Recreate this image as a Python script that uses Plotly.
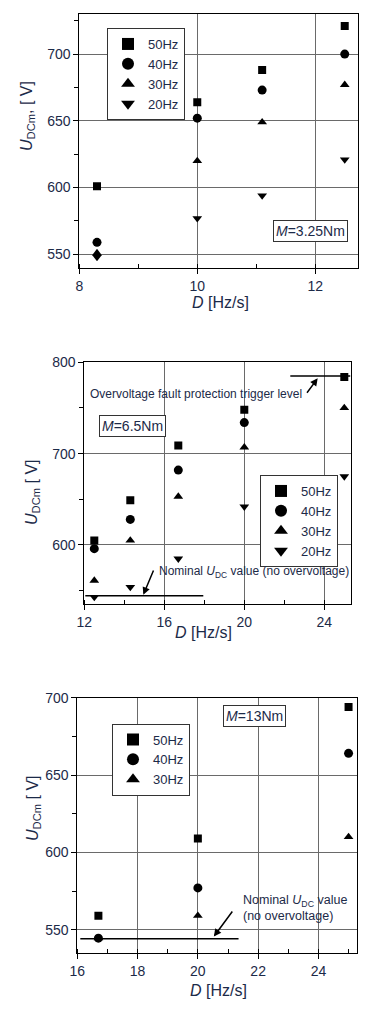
import plotly.graph_objects as go

# ---------------- data ----------------
freq_labels = ["50Hz", "40Hz", "30Hz", "20Hz"]
symbols = ["square", "circle", "triangle-up", "triangle-down"]
sym_sizes = [8, 9, 8.5, 8.5]

# Panel 1: M = 3.25 Nm
d1 = [8.3, 10.0, 11.1, 12.5]
u1_50 = [601, 664, 688, 721]
u1_40 = [559, 652, 673, 700]
u1_30 = [551, 620, 649, 677]
u1_20 = [548, 577, 594, 621]

# Panel 2: M = 6.5 Nm
d2 = [12.5, 14.3, 16.7, 20.0, 25.0]
u2_50 = [605, 649, 709, 748, 784]
d2_40 = [12.5, 14.3, 16.7, 20.0]
u2_40 = [596, 628, 682, 734]
u2_30 = [561, 605, 653, 707, 750]
u2_20 = [543, 554, 585, 642, 675]
trip_x = [22.3, 25.3]
trip_u = [785, 785]
nom2_x = [12.05, 17.95]
nom2_u = [544.5, 544.5]

# Panel 3: M = 13 Nm
d3 = [16.7, 20.0, 25.0]
u3_50 = [559, 609, 694]
u3_40 = [544.5, 577, 664]
u3_30 = [544.5, 559, 610]
nom3_x = [16.1, 21.35]
nom3_u = [544.2, 544.2]

TXT = "#1c2a48"
FONT = "Liberation Sans, Arial, sans-serif"

# page geometry (browser body has an 8px margin)
OFF = 8
W, H = 375 - OFF, 1022 - 2 * OFF
def px(x): return (x - OFF) / W
def py(y): return 1 - (y - OFF) / H
def dx(a, b): return [px(a), px(b)]
def dy(top, bot): return [py(bot), py(top)]

fig = go.Figure()

def add_series(xs, ys, sym, size, name, xa, ya, legend):
    fig.add_trace(go.Scatter(
        x=xs, y=ys, mode="markers", name=name, legend=legend,
        xaxis=xa, yaxis=ya,
        marker=dict(symbol=sym, size=size, color="black", line=dict(width=0)),
    ))

p1 = [u1_50, u1_40, u1_30, u1_20]
for ys, sym, sz, nm in zip(p1, symbols, sym_sizes, freq_labels):
    add_series(d1, ys, sym, sz, nm, "x", "y", "legend")

p2 = [(d2, u2_50), (d2_40, u2_40), (d2, u2_30), (d2, u2_20)]
for (xs, ys), sym, sz, nm in zip(p2, symbols, sym_sizes, freq_labels):
    add_series(xs, ys, sym, sz, nm, "x2", "y2", "legend2")

p3 = [(d3, u3_50), (d3, u3_40), (d3, u3_30)]
for (xs, ys), sym, sz, nm in zip(p3, symbols[:3], sym_sizes[:3], freq_labels[:3]):
    add_series(xs, ys, sym, sz, nm, "x3", "y3", "legend3")

# reference lines
for xs, ys, xa, ya in [(trip_x, trip_u, "x2", "y2"), (nom2_x, nom2_u, "x2", "y2"),
                       (nom3_x, nom3_u, "x3", "y3")]:
    fig.add_trace(go.Scatter(x=xs, y=ys, mode="lines", xaxis=xa, yaxis=ya,
                             showlegend=False, hoverinfo="skip",
                             line=dict(color="black", width=1.5)))

def ax_common(domain, rng, dtick, minor, anchor, minor_ticks):
    return dict(domain=domain, range=rng, dtick=dtick, tick0=0, anchor=anchor,
                automargin=False,
                showline=True, linecolor="black", linewidth=1, mirror=True,
                showgrid=True, gridcolor="#6a6a6a", gridwidth=1, zeroline=False,
                ticks="outside", ticklen=5, tickcolor="black",
                minor=dict(dtick=minor, tick0=0, ticks=minor_ticks, ticklen=4,
                           tickcolor="black", showgrid=False),
                tickfont=dict(size=14, color=TXT, family=FONT))

fig.update_layout(
    width=W, height=H, margin=dict(l=0, r=0, t=0, b=0, autoexpand=False),
    paper_bgcolor="white", plot_bgcolor="white",
    font=dict(family=FONT, color=TXT, size=13),
    xaxis=ax_common(dx(79.3, 358.3), [8, 12.73], 2, 1, "y", "inside"),
    yaxis=ax_common(dy(14, 267.7), [540, 730], 50, 25, "x", "outside"),
    xaxis2=ax_common(dx(84.3, 350.7), [12, 25.32], 4, 2, "y2", "inside"),
    yaxis2=ax_common(dy(362.3, 604), [535.4, 800], 100, 50, "x2", "outside"),
    xaxis3=ax_common(dx(77.3, 357.3), [16, 25.29], 2, 1, "y3", "inside"),
    yaxis3=ax_common(dy(697.7, 952.7), [535.1, 700], 50, 25, "x3", "outside"),
    showlegend=True,
)

def legend_cfg(x, yc):
    return dict(x=px(x), y=py(yc), xanchor="left", yanchor="middle",
                bordercolor="#333", borderwidth=1, bgcolor="white",
                font=dict(size=13, color=TXT, family=FONT),
                itemsizing="constant", tracegroupgap=0)

fig.update_layout(legend=legend_cfg(107, 74),
                  legend2=legend_cfg(260, 521),
                  legend3=legend_cfg(112, 759.5))

ann = []
def label(text, x, y, size, xanchor="center", angle=0, **kw):
    ann.append(dict(text=text, x=px(x), y=py(y), xref="paper", yref="paper",
                    xanchor=xanchor, yanchor="middle", textangle=angle,
                    showarrow=False, font=dict(size=size, color=TXT, family=FONT), **kw))

# axis titles
for xc, yc in [(220, 302), (203, 632), (218, 990)]:
    label("<i>D</i> [Hz/s]", xc, yc, 16)
for xc, yc, t in [(27, 116, "<i>U</i><sub>DCm</sub>, [ V]"),
                  (33, 492, "<i>U</i><sub>DCm</sub> [ V]"),
                  (33, 808, "<i>U</i><sub>DCm</sub> [ V]")]:
    label(t, xc, yc, 16, angle=-90)

box = dict(bordercolor="#333", borderwidth=1, borderpad=2, bgcolor="white")
label("<i>M</i>=3.25Nm", 310.5, 231.5, 14, **box)
label("<i>M</i>=6.5Nm", 132, 426, 14, **box)
label("<i>M</i>=13Nm", 254.5, 716, 14, **box)

label("Overvoltage fault protection trigger level", 88, 394, 12, xanchor="left")
label("Nominal <i>U</i><sub>DC</sub> value (no overvoltage)", 157, 572, 12, xanchor="left")
label("Nominal <i>U</i><sub>DC</sub> value<br>(no overvoltage)", 241, 908, 12.5,
      xanchor="left", align="left")

def arrow(xr, yr, hx, hy, tx, ty):
    ann.append(dict(text="", x=hx, y=hy, xref=xr, yref=yr, ax=tx, ay=ty,
                    axref=xr, ayref=yr, showarrow=True, arrowhead=2, arrowsize=1,
                    arrowwidth=1.5, arrowcolor="black"))
arrow("x2", "y2", 23.67, 782.5, 23.08, 765)
arrow("x2", "y2", 14.95, 545.5, 15.49, 573.7)
arrow("x3", "y3", 20.53, 545.5, 21.18, 562.7)

fig.update_layout(annotations=ann)

fig.write_html("out.html")
